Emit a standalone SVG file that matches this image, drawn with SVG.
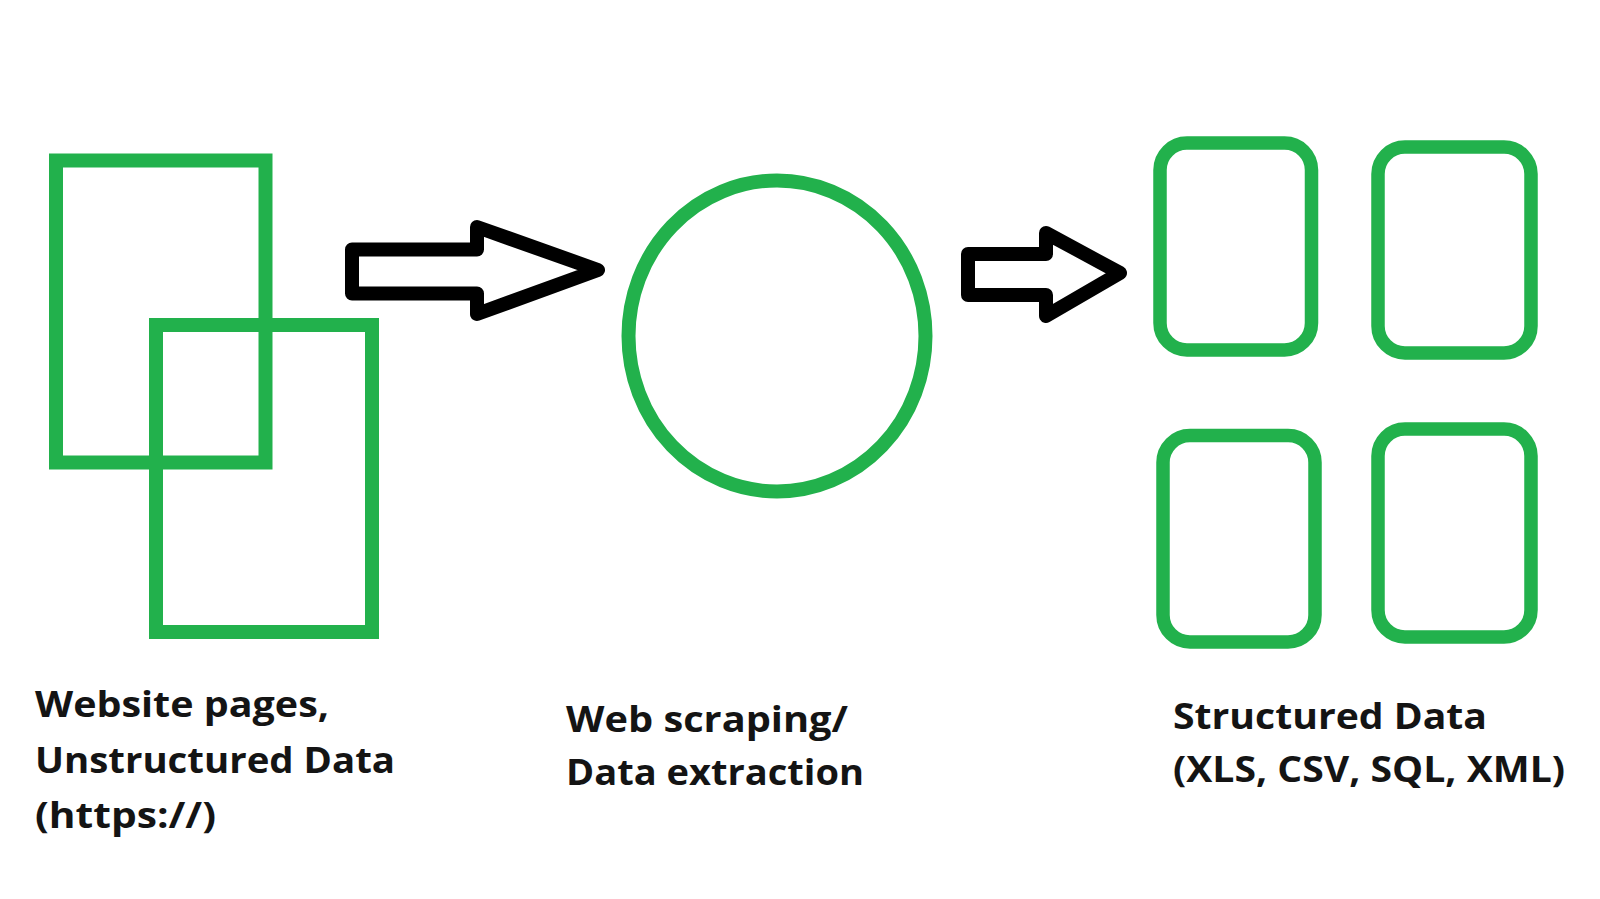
<svg xmlns="http://www.w3.org/2000/svg" width="1600" height="899" viewBox="0 0 1600 899">
<style>
.g{fill:none;stroke:#22b14c;stroke-width:14}
.r{fill:none;stroke:#22b14c;stroke-width:13.5}
.arr{fill:#fff;stroke:#000;stroke-width:14;stroke-linejoin:round}
.t{font-family:"Open Sans",Lato,sans-serif;font-weight:bold;font-size:35px;fill:#141414}
</style>
<rect width="1600" height="899" fill="#fff"/>
<g id="website-pages">
<rect class="g" x="56" y="160.5" width="209.5" height="302"/>
<rect class="g" x="156" y="325" width="216" height="307"/>
<text class="t" x="35" y="717" textLength="294" lengthAdjust="spacingAndGlyphs">Website pages,</text>
<text class="t" x="35" y="773" textLength="360" lengthAdjust="spacingAndGlyphs">Unstructured Data</text>
<text class="t" x="35" y="828" textLength="181" lengthAdjust="spacingAndGlyphs">(https://)</text>
</g>
<g id="web-scraping">
<ellipse class="g" cx="777" cy="336" rx="148.5" ry="155.5" stroke-width="13"/>
<text class="t" x="566" y="732" textLength="282" lengthAdjust="spacingAndGlyphs">Web scraping/</text>
<text class="t" x="566" y="785" textLength="298" lengthAdjust="spacingAndGlyphs">Data extraction</text>
</g>
<g id="structured-data">
<rect class="r" x="1160" y="143" width="151.5" height="207" rx="27"/>
<rect class="r" x="1378" y="147" width="153" height="206" rx="27"/>
<rect class="r" x="1163" y="435.5" width="152" height="206.5" rx="27"/>
<rect class="r" x="1378" y="429" width="153" height="208" rx="27"/>
<text class="t" x="1173" y="729" textLength="314" lengthAdjust="spacingAndGlyphs">Structured Data</text>
<text class="t" x="1173" y="782" textLength="392" lengthAdjust="spacingAndGlyphs">(XLS, CSV, SQL, XML)</text>
</g>
<g id="connectors">
<polygon class="arr" points="352,249.5 477,249.5 477,227 598,270 477,314 477,293.5 352,293.5"/>
<polygon class="arr" points="968,254 1046,254 1046,233 1120,273 1046,316 1046,295 968,295"/>
</g>
</svg>
